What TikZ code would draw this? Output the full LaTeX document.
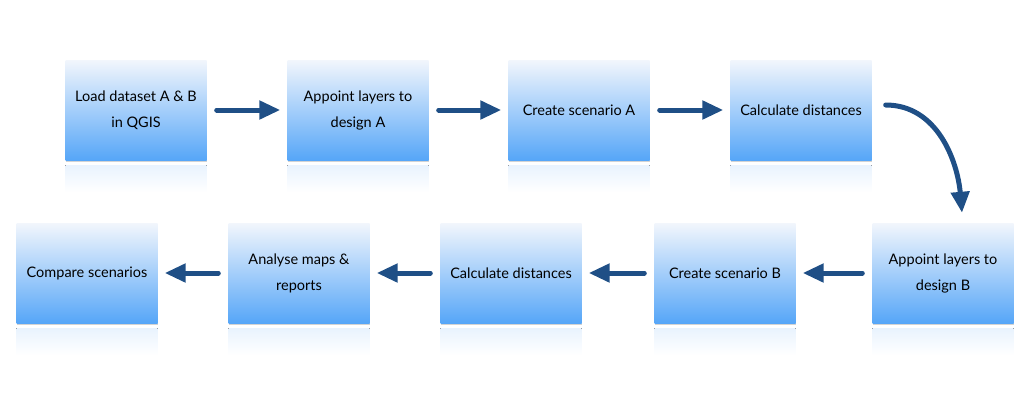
\documentclass[tikz,border=0pt]{standalone}
\usepackage{fontspec}
\setmainfont{Lato}
\usepackage{tikz}
\usetikzlibrary{arrows.meta,shadows}
\definecolor{boxtop}{HTML}{F2F6FC}
\definecolor{boxbottom}{HTML}{56A6F8}
\definecolor{flowblue}{HTML}{1F4F86}
\definecolor{reflect}{HTML}{E9F3FE}
\begin{document}
\begin{tikzpicture}[x=1pt,y=1pt]
    \tikzstyle{stepbox}=[rectangle, minimum width=141pt, minimum height=100pt,
      top color=boxtop, bottom color=boxbottom, align=center, inner sep=0pt,
      font=\fontsize{14.5}{26}\selectfont,
      drop shadow={shadow xshift=0pt, shadow yshift=-2pt, opacity=0.35}]
    \tikzstyle{flow}=[flowblue, line width=5pt, line cap=round,
      -{Triangle[length=21pt,width=18pt]}, shorten <=10pt, shorten >=7pt]
    \useasboundingbox (0,0) rectangle (1024,-400);
    % top row
    \node[stepbox] (load) at (136,-110) {Load dataset A \& B\\in QGIS};
    \node[stepbox] (appointA) at (358,-110) {Appoint layers to\\design A};
    \node[stepbox] (scenA) at (579,-110) {Create scenario A};
    \node[stepbox] (calcA) at (801,-110) {Calculate distances};
    % bottom row
    \node[stepbox] (appointB) at (943,-273) {Appoint layers to\\design B};
    \node[stepbox] (scenB) at (725,-273) {Create scenario B};
    \node[stepbox] (calcB) at (511,-273) {Calculate distances};
    \node[stepbox] (analyse) at (299,-273) {Analyse maps \&\\reports};
    \node[stepbox] (compare) at (87,-273) {Compare scenarios};
    \foreach \n in {load,appointA,scenA,calcA,appointB,scenB,calcB,analyse,compare}
      \fill[top color=reflect, bottom color=white]
        ([yshift=-5pt]\n.south west) rectangle ([yshift=-32pt]\n.south east);
    \draw[flow] (load) -- (appointA);
    \draw[flow] (appointA) -- (scenA);
    \draw[flow] (scenA) -- (calcA);
    \draw[flow, shorten <=0pt, shorten >=0pt] ([xshift=14pt,yshift=5pt]calcA.east)
      to[out=0, in=95] ([xshift=19pt,yshift=10pt]appointB.north);
    \draw[flow] (appointB) -- (scenB);
    \draw[flow] (scenB) -- (calcB);
    \draw[flow] (calcB) -- (analyse);
    \draw[flow] (analyse) -- (compare);
\end{tikzpicture}
\end{document}
